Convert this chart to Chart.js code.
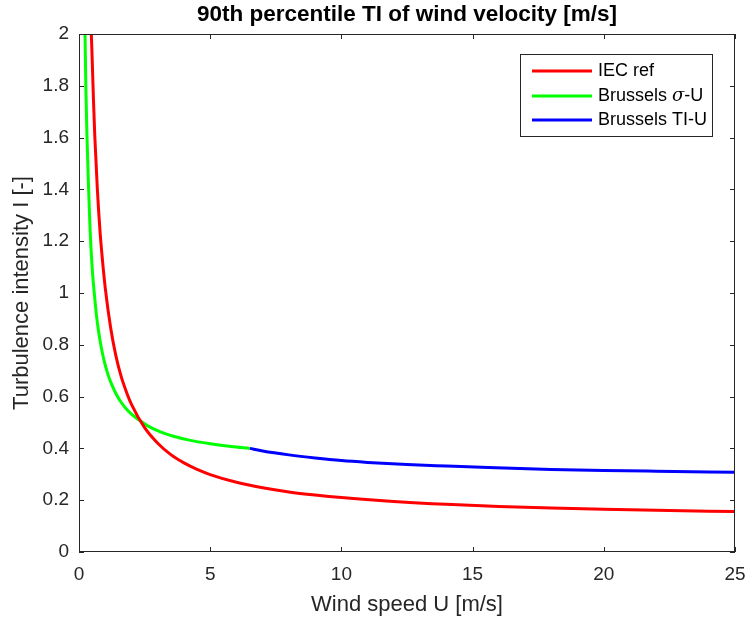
<!DOCTYPE html>
<html>
<head>
<meta charset="utf-8">
<script src="https://cdn.jsdelivr.net/npm/chart.js@4.4.0/dist/chart.umd.min.js"></script>
<style>
  html, body { margin: 0; padding: 0; background: #fff; }
  #wrap { width: 746px; height: 622px; }
</style>
</head>
<body>
<div id="wrap"><canvas id="tiChart"></canvas></div>
<script>
// values
const iecU = [0.47, 0.5, 0.55, 0.6, 0.7, 0.8, 0.9, 1.0, 1.2, 1.4, 1.6, 1.8, 2.0, 2.5, 3.0, 3.5, 4.0, 4.5, 5.0, 6.0, 7.0, 8.0, 9.0, 10, 12, 14, 16, 18, 20, 22, 25];
const iecTI = [2.0, 1.91, 1.75, 1.61, 1.40, 1.24, 1.12, 1.02, 0.87, 0.76, 0.68, 0.62, 0.57, 0.48, 0.42, 0.376, 0.344, 0.319, 0.299, 0.269, 0.248, 0.232, 0.220, 0.210, 0.195, 0.184, 0.176, 0.170, 0.165, 0.161, 0.156];

const sigmaU = [0.23, 0.26, 0.30, 0.35, 0.42, 0.5, 0.55, 0.6, 0.67, 0.74, 0.83, 0.92, 1.0, 1.12, 1.25, 1.4, 1.56, 1.78, 2.0, 2.2, 2.6, 3.1, 3.6, 4.2, 5.0, 5.8, 6.5];
const sigmaTI = [2.0, 1.80, 1.62, 1.45, 1.25, 1.10, 1.035, 0.98, 0.91, 0.856, 0.80, 0.755, 0.722, 0.68, 0.646, 0.613, 0.585, 0.555, 0.532, 0.516, 0.488, 0.464, 0.447, 0.432, 0.418, 0.407, 0.40];

const tiU = [6.5, 7.0, 8.0, 9.0, 10, 11, 12.5, 14, 15.6, 18, 20, 22, 25];
const tiTI = [0.400, 0.390, 0.375, 0.363, 0.353, 0.346, 0.338, 0.332, 0.326, 0.319, 0.315, 0.312, 0.308];

const xTicks = [0, 5, 10, 15, 20, 25];
const yTicks = [0, 0.2, 0.4, 0.6, 0.8, 1, 1.2, 1.4, 1.6, 1.8, 2];

const chartTitle = '90th percentile TI of wind velocity [m/s]';

const toPoints = (xs, ys) => xs.map((x, i) => ({ x: x, y: ys[i] }));

const axisColor = '#262626';
const fontFamily = '"Liberation Sans", Arial, Helvetica, sans-serif';

// MATLAB style title over the axes, box, inward ticks and the legend inside the axes
const matlabBox = {
  id: 'matlabBox',
  afterDraw(chart) {
    const { ctx, chartArea: a, scales } = chart;
    const tick = 5;
    ctx.save();

    ctx.fillStyle = '#000';
    ctx.font = 'bold 22.5px ' + fontFamily;
    ctx.textAlign = 'center';
    ctx.textBaseline = 'middle';
    ctx.fillText(chartTitle, (a.left + a.right) / 2, 15);

    ctx.strokeStyle = axisColor;
    ctx.lineWidth = 1;
    ctx.strokeRect(a.left + 0.5, a.top + 0.5, a.right - a.left - 1, a.bottom - a.top - 1);
    ctx.beginPath();
    xTicks.forEach(v => {
      const px = Math.round(scales.x.getPixelForValue(v)) + 0.5;
      ctx.moveTo(px, a.bottom); ctx.lineTo(px, a.bottom - tick);
      ctx.moveTo(px, a.top); ctx.lineTo(px, a.top + tick);
    });
    yTicks.forEach(v => {
      const py = Math.round(scales.y.getPixelForValue(v)) + 0.5;
      ctx.moveTo(a.left, py); ctx.lineTo(a.left + tick, py);
      ctx.moveTo(a.right, py); ctx.lineTo(a.right - tick, py);
    });
    ctx.stroke();

    // legend
    const bx = 520, by = 54, bw = 192, bh = 82;
    ctx.fillStyle = '#fff';
    ctx.fillRect(bx, by, bw, bh);
    ctx.strokeStyle = axisColor;
    ctx.strokeRect(bx + 0.5, by + 0.5, bw, bh);
    const rows = [71, 96, 120];
    chart.data.datasets.forEach((ds, i) => {
      const y = rows[i];
      ctx.strokeStyle = ds.borderColor;
      ctx.lineWidth = 3;
      ctx.beginPath();
      ctx.moveTo(532, y); ctx.lineTo(592, y);
      ctx.stroke();
      ctx.fillStyle = '#000';
      ctx.textBaseline = 'middle';
      ctx.textAlign = 'left';
      let x = 598;
      const parts = ds.label.split('σ');
      parts.forEach((p, j) => {
        ctx.font = '18px ' + fontFamily;
        ctx.fillText(p, x, y);
        x += ctx.measureText(p).width;
        if (j < parts.length - 1) {
          ctx.font = 'italic 18px "DejaVu Serif", serif';
          ctx.fillText('σ', x, y);
          x += ctx.measureText('σ').width;
        }
      });
    });
    ctx.restore();
  }
};

const ctx = document.getElementById('tiChart');
new Chart(ctx, {
  type: 'scatter',
  data: {
    datasets: [
      {
        label: 'IEC ref',
        data: toPoints(iecU, iecTI),
        borderColor: '#ff0000',
        borderWidth: 3,
        showLine: true,
        cubicInterpolationMode: 'monotone',
        pointRadius: 0,
        fill: false,
        order: 1,
      },
      {
        label: 'Brussels σ-U',
        data: toPoints(sigmaU, sigmaTI),
        borderColor: '#00ff00',
        borderWidth: 3,
        showLine: true,
        cubicInterpolationMode: 'monotone',
        pointRadius: 0,
        fill: false,
        order: 2,
      },
      {
        label: 'Brussels TI-U',
        data: toPoints(tiU, tiTI),
        borderColor: '#0000ff',
        borderWidth: 3,
        showLine: true,
        cubicInterpolationMode: 'monotone',
        pointRadius: 0,
        fill: false,
        order: 3,
      },
    ],
  },
  options: {
    responsive: true,
    maintainAspectRatio: false,
    animation: false,
    clip: true,
    layout: { padding: { left: 0, right: 11, top: 34, bottom: 0 } },
    plugins: {
      legend: { display: false },
      tooltip: { enabled: false },
      title: { display: false },
    },
    scales: {
      x: {
        type: 'linear',
        min: 0,
        max: 25,
        afterBuildTicks: (scale) => { scale.ticks = xTicks.map(v => ({ value: v })); },
        afterFit: (scale) => {
          scale.height = 70;
          scale.paddingLeft = 0;
          scale.paddingRight = 0;
        },
        grid: { display: false, drawTicks: false },
        border: { display: false },
        ticks: {
          color: axisColor,
          padding: 11,
          maxRotation: 0,
          font: { family: fontFamily, size: 19 },
          callback: (v) => String(v),
        },
        title: {
          display: true,
          text: 'Wind speed U [m/s]',
          color: axisColor,
          font: { family: fontFamily, size: 22 },
          padding: { top: 0, bottom: 4 },
        },
      },
      y: {
        type: 'linear',
        min: 0,
        max: 2,
        afterBuildTicks: (scale) => { scale.ticks = yTicks.map(v => ({ value: v })); },
        afterFit: (scale) => {
          scale.width = 79;
          scale.paddingTop = 0;
          scale.paddingBottom = 0;
        },
        grid: { display: false, drawTicks: false },
        border: { display: false },
        ticks: {
          color: axisColor,
          padding: 10,
          font: { family: fontFamily, size: 19 },
          callback: (v) => String(Math.round(v * 10) / 10),
        },
        title: {
          display: true,
          text: 'Turbulence intensity I [-]',
          color: axisColor,
          font: { family: fontFamily, size: 22 },
          padding: { top: 9, bottom: 0 },
        },
      },
    },
  },
  plugins: [matlabBox],
});
</script>
</body>
</html>
